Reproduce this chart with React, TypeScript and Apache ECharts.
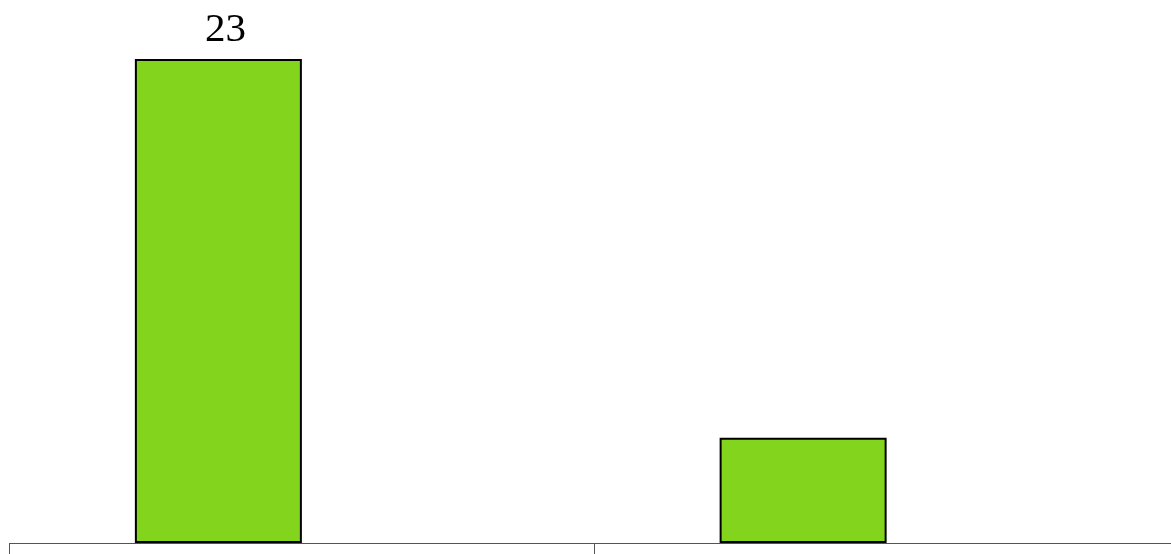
import React, { useEffect, useRef } from "react";
import * as echarts from "echarts";

const categories = ["A", "B"];
const seriesValues = [23, 5];
const emptySeries = [null, null];
const valueLabels = ["23", ""];

export default function App() {
  const ref = useRef<HTMLDivElement>(null);
  useEffect(() => {
    if (!ref.current) return;
    const chart = echarts.init(ref.current, null, { renderer: "svg" });
    chart.setOption({
      animation: false,
      grid: { left: 9.5, right: 0, top: 59, bottom: 11, containLabel: false },
      xAxis: {
        type: "category",
        data: categories,
        axisLine: { show: true, lineStyle: { color: "#555555", width: 1 } },
        axisTick: { show: true, length: 14, lineStyle: { color: "#555555" } },
        axisLabel: { show: false },
        splitLine: { show: false },
      },
      yAxis: {
        type: "value",
        min: 0,
        max: 23,
        show: false,
        splitLine: { show: false },
      },
      series: [
        {
          type: "bar",
          data: seriesValues,
          barWidth: 167,
          barGap: 0,
          itemStyle: { color: "#83d41d", borderColor: "#000000", borderWidth: 2 },
          label: {
            show: true,
            position: "top",
            distance: 12,
            offset: [7, 0],
            color: "#000",
            fontFamily: "Liberation Serif",
            fontSize: 41,
            formatter: (p: any) => valueLabels[p.dataIndex],
          },
        },
        {
          type: "bar",
          data: emptySeries,
          barWidth: 167,
          barGap: 0,
        },
      ],
    });
    return () => chart.dispose();
  }, []);
  return (
    <div
      style={{
        position: "fixed",
        left: 0,
        top: 0,
        width: 1171,
        height: 554,
        overflow: "hidden",
      }}
    >
      <div ref={ref} style={{ width: 1179, height: 554 }} />
    </div>
  );
}
